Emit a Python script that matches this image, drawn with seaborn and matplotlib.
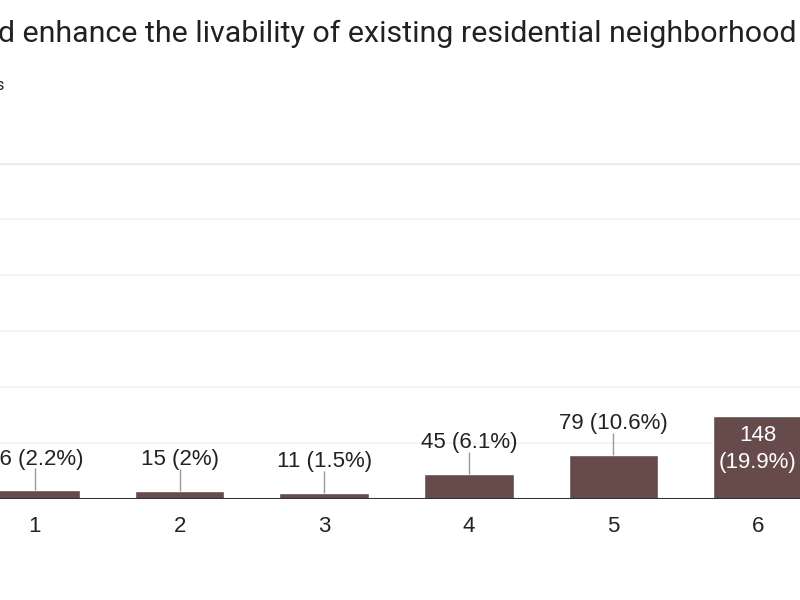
import matplotlib

matplotlib.use("Agg")
import matplotlib.pyplot as plt
import seaborn as sns

sns.set_theme(style="white")
plt.rcParams["font.family"] = ["Liberation Sans", "DejaVu Sans"]

TITLE = "d enhance the livability of existing residential neighborhood"
SUBTITLE = "744 responses"
CATEGORIES = ["1", "2", "3", "4", "5", "6"]
COUNTS = [16, 15, 11, 45, 79, 148]
PERCENTS = ["2.2%", "2%", "1.5%", "6.1%", "10.6%", "19.9%"]

BAR_COLOR = "#664b4a"
W, H = 800, 600


def main() -> None:
    fig = plt.figure(figsize=(W / 100, H / 100), dpi=100)
    fig.patch.set_facecolor("white")

    # axes runs past the canvas edges, like the cropped screenshot
    base_y, top_y = 499, 163
    ax = fig.add_axes([0, (H - base_y) / H, 1, (base_y - top_y) / H])

    sns.barplot(x=CATEGORIES, y=COUNTS, color=BAR_COLOR, saturation=1,
                width=0.62, ax=ax)

    step = 144.6
    ax.set_xlim(-35 / step, -35 / step + W / step)
    ax.set_ylim(0, 600)
    ax.set_yticks(range(0, 700, 100))
    ax.yaxis.grid(True, color="#f1f1f1", lw=1.2)
    ax.set_axisbelow(True)
    ax.axhline(600, color="#e8e8e8", lw=3, zorder=0)
    ax.axhline(0, color="#333333", lw=1.5, zorder=3)
    for s in ax.spines.values():
        s.set_visible(False)
    ax.tick_params(axis="y", labelleft=False, length=0)
    ax.tick_params(axis="x", length=0, pad=12.5, labelsize=16, labelcolor="#222222")
    ax.set_xlabel("")
    ax.set_ylabel("")

    px = (base_y - top_y) / 600  # pixels per count
    for i, (v, pct) in enumerate(zip(COUNTS, PERCENTS)):
        if v >= 100:
            ax.text(i, v - 33 / px, f"{v}\n({pct})", ha="center", va="center",
                    color="white", fontsize=16, linespacing=1.4, zorder=4)
        else:
            ax.vlines(i, v, v + 22 / px, color="#999999", lw=1, zorder=2)
            ax.text(i, v + 31 / px, f"{v} ({pct})", ha="center", va="center",
                    color="#222222", fontsize=16, zorder=4)

    fig.text(-0.002, 1 - 42 / H, TITLE, ha="left", va="baseline",
             fontsize=21.9, color="#202124", family=["Roboto", "DejaVu Sans"])
    fig.text(4 / W, 1 - 90 / H, SUBTITLE, ha="right", va="baseline",
             fontsize=11.5, color="#202124", family=["Roboto", "DejaVu Sans"])

    fig.savefig("out.png", dpi=100, facecolor="white")
    plt.close(fig)


if __name__ == "__main__":
    main()
